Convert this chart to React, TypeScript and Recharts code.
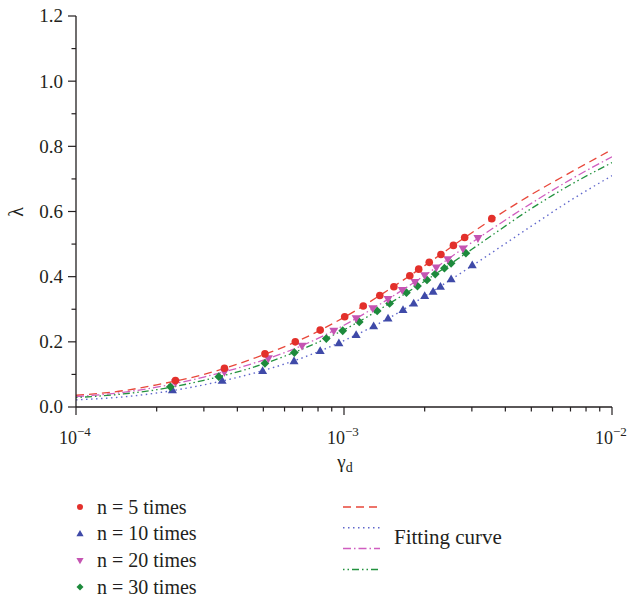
import React from 'react';
import { ComposedChart, Line, Scatter, XAxis, YAxis } from 'recharts';

// measured points, one array per test count
const gammaN5 = [2.35e-4, 3.58e-4, 5.07e-4, 6.58e-4, 8.15e-4, 1.006e-3, 1.18e-3, 1.36e-3, 1.535e-3, 1.76e-3, 1.9e-3, 2.08e-3, 2.3e-3, 2.56e-3, 2.82e-3, 3.56e-3];
const lambdaN5 = [0.081, 0.119, 0.163, 0.2, 0.236, 0.277, 0.31, 0.342, 0.369, 0.403, 0.423, 0.444, 0.468, 0.496, 0.52, 0.578];

const gammaN10 = [2.29e-4, 3.51e-4, 4.97e-4, 6.51e-4, 8.15e-4, 9.57e-4, 1.11e-3, 1.29e-3, 1.46e-3, 1.66e-3, 1.82e-3, 2.0e-3, 2.15e-3, 2.29e-3, 2.51e-3, 3.01e-3];
const lambdaN10 = [0.052, 0.081, 0.111, 0.141, 0.172, 0.196, 0.221, 0.248, 0.272, 0.298, 0.318, 0.341, 0.354, 0.369, 0.392, 0.435];

const gammaN20 = [2.35e-4, 3.58e-4, 5.22e-4, 6.97e-4, 9.16e-4, 1.11e-3, 1.28e-3, 1.46e-3, 1.65e-3, 1.84e-3, 2.0e-3, 2.21e-3, 2.44e-3, 2.78e-3, 3.16e-3];
const lambdaN20 = [0.075, 0.107, 0.149, 0.188, 0.234, 0.272, 0.303, 0.331, 0.359, 0.383, 0.404, 0.428, 0.453, 0.486, 0.518];

const gammaN30 = [2.25e-4, 3.41e-4, 5.07e-4, 6.53e-4, 8.59e-4, 9.89e-4, 1.14e-3, 1.33e-3, 1.48e-3, 1.71e-3, 1.88e-3, 2.04e-3, 2.19e-3, 2.37e-3, 2.51e-3, 2.85e-3];
const lambdaN30 = [0.062, 0.093, 0.134, 0.167, 0.21, 0.234, 0.261, 0.295, 0.318, 0.351, 0.371, 0.39, 0.408, 0.426, 0.441, 0.472];

// fitting curves
const fitGamma = [1e-4, 1.5e-4, 2e-4, 3e-4, 5e-4, 7e-4, 1e-3, 1.5e-3, 2e-3, 3e-3, 5e-3, 7e-3, 1e-2];
const fitN5 = [0.036, 0.05, 0.068, 0.1, 0.16, 0.209, 0.275, 0.365, 0.434, 0.535, 0.652, 0.72, 0.79];
const fitN10 = [0.022, 0.031, 0.043, 0.068, 0.112, 0.151, 0.204, 0.277, 0.34, 0.433, 0.555, 0.634, 0.71];
const fitN20 = [0.032, 0.045, 0.061, 0.092, 0.144, 0.189, 0.251, 0.337, 0.404, 0.505, 0.625, 0.698, 0.768];
const fitN30 = [0.029, 0.04, 0.053, 0.082, 0.132, 0.178, 0.237, 0.321, 0.386, 0.484, 0.609, 0.682, 0.75];

const xTicks = [1e-4, 2e-4, 3e-4, 4e-4, 5e-4, 6e-4, 7e-4, 8e-4, 9e-4, 1e-3, 2e-3, 3e-3, 4e-3, 5e-3, 6e-3, 7e-3, 8e-3, 9e-3, 1e-2];
const yTicks = [0, 0.1, 0.2, 0.3, 0.4, 0.5, 0.6, 0.7, 0.8, 0.9, 1.0, 1.1, 1.2];

const seriesLabels = ['n = 5 times', 'n = 10 times', 'n = 20 times', 'n = 30 times'];

const FONT = '"Liberation Serif", "DejaVu Serif", serif';
const AXIS = '#231f20';

const RED = '#e3302b';
const BLUE = '#3f4aa8';
const MAGENTA = '#c554b2';
const GREEN = '#1d8a3c';

const toPoints = (xs: number[], ys: number[]) => xs.map((x, i) => ({ x, y: ys[i] }));

const pts5 = toPoints(gammaN5, lambdaN5);
const pts10 = toPoints(gammaN10, lambdaN10);
const pts20 = toPoints(gammaN20, lambdaN20);
const pts30 = toPoints(gammaN30, lambdaN30);
const fit5 = toPoints(fitGamma, fitN5);
const fit10 = toPoints(fitGamma, fitN10);
const fit20 = toPoints(fitGamma, fitN20);
const fit30 = toPoints(fitGamma, fitN30);

const lineStyles = [
  { color: '#e8473a', dash: '8 5' },
  { color: '#6068cc', dash: '1.5 3.5' },
  { color: '#d05ec0', dash: '8 3 1.5 3' },
  { color: '#23923f', dash: '1.5 3 1.5 3 7 3' },
];

const Circle = (p: any) => <circle cx={p.cx} cy={p.cy} r={3.8} fill={RED} />;
const TriUp = (p: any) => (
  <polygon points={`${p.cx},${p.cy - 4.7} ${p.cx - 4.5},${p.cy + 3.1} ${p.cx + 4.5},${p.cy + 3.1}`} fill={BLUE} />
);
const TriDown = (p: any) => (
  <polygon points={`${p.cx},${p.cy + 4.7} ${p.cx - 4.5},${p.cy - 3.1} ${p.cx + 4.5},${p.cy - 3.1}`} fill={MAGENTA} />
);
const Diamond = (p: any) => (
  <polygon points={`${p.cx},${p.cy - 4.4} ${p.cx + 4.4},${p.cy} ${p.cx},${p.cy + 4.4} ${p.cx - 4.4},${p.cy}`} fill={GREEN} />
);

const XTick = (props: any) => {
  const { x, y, payload } = props;
  const lg = Math.log10(payload.value);
  const major = Math.abs(lg - Math.round(lg)) < 1e-6;
  return (
    <g>
      <line x1={x} x2={x} y1={y} y2={y + (major ? 8 : 4.5)} stroke={AXIS} strokeWidth={1.2} />
      {major && (
        <text x={x - 17} y={y + 37} fontFamily={FONT} fontSize={18} fill={AXIS}>
          10
          <tspan dy={-8} fontSize={13}>{`−${Math.abs(Math.round(lg))}`}</tspan>
        </text>
      )}
    </g>
  );
};

const YTick = (props: any) => {
  const { x, y, payload } = props;
  const v = payload.value;
  const major = Math.round(v * 10) % 2 === 0;
  return (
    <g>
      <line x1={x - (major ? 8 : 4.5)} x2={x} y1={y} y2={y} stroke={AXIS} strokeWidth={1.2} />
      {major && (
        <text x={x - 13} y={y} dy="0.34em" textAnchor="end" fontFamily={FONT} fontSize={19} fill={AXIS}>
          {v.toFixed(1)}
        </text>
      )}
    </g>
  );
};

const markers = [Circle, TriUp, TriDown, Diamond];

export default function App() {
  return (
    <div style={{ position: 'absolute', left: 0, top: 0, width: 631, height: 599, background: '#fff' }}>
      <ComposedChart width={631} height={599} margin={{ top: 16, right: 19, bottom: 132, left: 0 }}>
        <XAxis
          dataKey="x"
          type="number"
          scale="log"
          domain={[1e-4, 1e-2]}
          ticks={xTicks}
          interval={0}
          allowDataOverflow
          height={60}
          tickSize={0}
          tickMargin={0}
          tick={<XTick />}
          axisLine={{ stroke: AXIS, strokeWidth: 1.3 }}
          tickLine={false}
        />
        <YAxis
          dataKey="y"
          type="number"
          domain={[0, 1.2]}
          ticks={yTicks}
          interval={0}
          width={76}
          tickSize={0}
          tickMargin={0}
          tick={<YTick />}
          axisLine={{ stroke: AXIS, strokeWidth: 1.3 }}
          tickLine={false}
        />
        <Line data={fit5} dataKey="y" type="monotone" stroke={lineStyles[0].color} strokeWidth={1.3} strokeDasharray={lineStyles[0].dash} dot={false} isAnimationActive={false} />
        <Line data={fit10} dataKey="y" type="monotone" stroke={lineStyles[1].color} strokeWidth={1.4} strokeDasharray={lineStyles[1].dash} dot={false} isAnimationActive={false} />
        <Line data={fit20} dataKey="y" type="monotone" stroke={lineStyles[2].color} strokeWidth={1.3} strokeDasharray={lineStyles[2].dash} dot={false} isAnimationActive={false} />
        <Line data={fit30} dataKey="y" type="monotone" stroke={lineStyles[3].color} strokeWidth={1.3} strokeDasharray={lineStyles[3].dash} dot={false} isAnimationActive={false} />
        <Scatter data={pts10} dataKey="y" shape={<TriUp />} isAnimationActive={false} />
        <Scatter data={pts30} dataKey="y" shape={<Diamond />} isAnimationActive={false} />
        <Scatter data={pts20} dataKey="y" shape={<TriDown />} isAnimationActive={false} />
        <Scatter data={pts5} dataKey="y" shape={<Circle />} isAnimationActive={false} />
      </ComposedChart>

      <svg width={631} height={599} style={{ position: 'absolute', left: 0, top: 0, pointerEvents: 'none' }}>
        <text x={16} y={212} dy="0.33em" textAnchor="middle" transform="rotate(-90 16 212)" fontFamily={FONT} fontSize={20} fill={AXIS}>
          λ
        </text>
        <text x={345} y={468} textAnchor="middle" fontFamily={FONT} fontSize={19} fill={AXIS}>
          γ<tspan dy={4} fontSize={14}>d</tspan>
        </text>

        {seriesLabels.map((label, i) => {
          const Mark = markers[i];
          const cy = 507 + i * 26.7;
          return (
            <g key={label}>
              <g transform={`translate(80 ${cy}) scale(0.8) translate(-80 ${-cy})`}>
                <Mark cx={80} cy={cy} />
              </g>
              <text x={97} y={cy} dy="0.33em" fontFamily={FONT} fontSize={20} fill={AXIS}>
                {label}
              </text>
            </g>
          );
        })}

        {lineStyles.map((s, i) => {
          const ly = 507 + i * 20.8;
          return <line key={i} x1={343} x2={380} y1={ly} y2={ly} stroke={s.color} strokeWidth={1.5} strokeDasharray={s.dash} />;
        })}
        <text x={394} y={537} dy="0.33em" fontFamily={FONT} fontSize={21} fill={AXIS}>
          Fitting curve
        </text>
      </svg>
    </div>
  );
}
